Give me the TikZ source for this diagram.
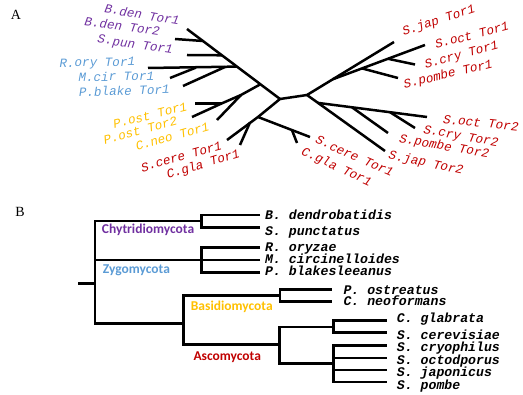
\documentclass[tikz,border=0pt]{standalone}
\usepackage{fontspec}
\setmainfont{Liberation Serif}
\newfontfamily\monof{Liberation Mono}
\newfontfamily\cladef{Carlito}
\definecolor{cpurple}{HTML}{7030A0}
\definecolor{cblue}{HTML}{5B9BD5}
\definecolor{corange}{HTML}{FFC000}
\definecolor{cred}{HTML}{C00000}
\tikzset{
  br/.style={line width=2.5pt, black, line cap=butt, line join=miter},
  tla/.style={font=\monof\itshape\fontsize{12.6}{14}\selectfont, inner sep=0pt, text height=6pt, text depth=1pt, anchor=center},
  spl/.style={font=\monof\bfseries\itshape\fontsize{13.2}{14}\selectfont, inner sep=0pt, text height=6pt, text depth=1pt, anchor=west},
  cla/.style={font=\cladef\bfseries\fontsize{13.5}{14}\selectfont, inner sep=0pt, anchor=west},
  panel/.style={font=\fontsize{14}{16}\selectfont, inner sep=0pt}
}
\begin{document}
\begin{tikzpicture}[x=1pt,y=-1pt]
\useasboundingbox (0,0) rectangle (523,395);
\node[panel] (pA) at (16,15) {A};
\node[panel] (pB) at (20,212) {B};
% ---------- panel A tree ----------
\coordinate (bdt1) at (187,29);
\coordinate (c0) at (280,99);
\coordinate (j1) at (203,41);
\coordinate (j2) at (222,55.3);
\coordinate (j3) at (237,66.6);
\coordinate (j4) at (260,84.5);
\coordinate (bdt2) at (175,39);
\coordinate (spun) at (187,55);
\coordinate (rory) at (148,68);
\coordinate (mj) at (196,67.6);
\coordinate (mcir) at (170,78);
\coordinate (pbj) at (225,67);
\coordinate (pbl) at (183,86);
\coordinate (pot2) at (192,117);
\coordinate (pnode) at (222,103.3);
\coordinate (pot1) at (195,103.3);
\coordinate (cnode) at (241,95);
\coordinate (cneo) at (217,120);
\coordinate (s1) at (258,117);
\coordinate (cgj) at (250,122.5);
\coordinate (scl) at (227,140);
\coordinate (cgl) at (240,145);
\coordinate (scr) at (310,137);
\coordinate (cgrj) at (292,130.2);
\coordinate (cgr) at (297,143);
\coordinate (c1) at (307,95);
\coordinate (sjap1) at (394,42);
\coordinate (oj) at (333,79.2);
\coordinate (soct1) at (425,45);
\coordinate (pj1) at (362,68.4);
\coordinate (spo1) at (398,78);
\coordinate (cj1) at (388,58.8);
\coordinate (scr1) at (415,64.5);
\coordinate (sjap2) at (385,151);
\coordinate (kj) at (318,102.9);
\coordinate (soct2) at (427,117);
\coordinate (pj2) at (352,107.3);
\coordinate (spo2) at (388,133);
\coordinate (cj2) at (390,112.2);
\coordinate (scr2) at (415,128);
\draw[br] (bdt1) -- (c0);
\draw[br] (bdt2) -- (j1);
\draw[br] (spun) -- (j2);
\draw[br] (rory) -- (j3);
\draw[br] (mcir) -- (mj);
\draw[br] (pbl) -- (pbj);
\draw[br] (pot2) -- (pnode) -- (cnode) -- (j4);
\draw[br] (pot1) -- (pnode);
\draw[br] (cneo) -- (cnode);
\draw[br] (c0) -- (s1) -- (scl);
\draw[br] (cgl) -- (cgj);
\draw[br] (s1) -- (scr);
\draw[br] (cgr) -- (cgrj);
\draw[br] (c0) -- (c1);
\draw[br] (c1) -- (sjap1);
\draw[br] (oj) -- (soct1);
\draw[br] (pj1) -- (spo1);
\draw[br] (cj1) -- (scr1);
\draw[br] (c1) -- (sjap2);
\draw[br] (kj) -- (soct2);
\draw[br] (pj2) -- (spo2);
\draw[br] (cj2) -- (scr2);
% labels A
\node[tla, text=cpurple, rotate=-9.5] (lbd1) at (141.7,16.5) {B.den Tor1};
\node[tla, text=cpurple, rotate=-8] (lbd2) at (122,28.3) {B.den Tor2};
\node[tla, text=cpurple, rotate=-8] (lsp) at (135,45.7) {S.pun Tor1};
\node[tla, text=cblue, rotate=1] (lro) at (97.3,64) {R.ory Tor1};
\node[tla, text=cblue, rotate=1] (lmc) at (116.3,78.3) {M.cir Tor1};
\node[tla, text=cblue, rotate=2] (lpb) at (124.3,92.7) {P.blake Tor1};
\node[tla, text=corange, rotate=14] (lpo1) at (150.5,117) {P.ost Tor1};
\node[tla, text=corange, rotate=15] (lpo2) at (140.7,132) {P.ost Tor2};
\node[tla, text=corange, rotate=16] (lcn) at (172.8,138) {C.neo Tor1};
\node[tla, text=cred, rotate=15.5] (lscl) at (181.7,158.5) {S.cere Tor1};
\node[tla, text=cred, rotate=17] (lcgl) at (203.5,165.5) {C.gla Tor1};
\node[tla, text=cred, rotate=18] (lsj1) at (439,21.5) {S.jap Tor1};
\node[tla, text=cred, rotate=15] (lso1) at (472.3,36.7) {S.oct Tor1};
\node[tla, text=cred, rotate=15] (lsc1) at (461.7,55.9) {S.cry Tor1};
\node[tla, text=cred, rotate=13] (lspo1) at (448.3,75.5) {S.pombe Tor1};
\node[tla, text=cred, rotate=-6] (lso2) at (480.7,124.7) {S.oct Tor2};
\node[tla, text=cred, rotate=-10] (lsc2) at (460.7,137.3) {S.cry Tor2};
\node[tla, text=cred, rotate=-10] (lspo2) at (444,147.6) {S.pombe Tor2};
\node[tla, text=cred, rotate=-12] (lsj2) at (425.7,164) {S.jap Tor2};
\node[tla, text=cred, rotate=-24] (lscr) at (354,157.5) {S.cere Tor1};
\node[tla, text=cred, rotate=-25] (lcgr) at (336,168) {C.gla Tor1};
% ---------- panel B tree ----------
\coordinate (r0) at (78,283.3);
\coordinate (n0) at (95,283.3);
\coordinate (nchy) at (201.7,221);
\coordinate (nzyg) at (201.7,260);
\coordinate (ndik) at (183.3,323.3);
\coordinate (tbd) at (260,215);
\coordinate (tsp) at (260,227.7);
\coordinate (tro) at (260,247.7);
\coordinate (tmc) at (260,260);
\coordinate (tpb) at (260,272.7);
\coordinate (nbas) at (280,295.5);
\coordinate (nasc) at (279.3,344.5);
\coordinate (tpo) at (331.7,289.3);
\coordinate (tcn) at (331.7,301.7);
\coordinate (nsac) at (333.3,327);
\coordinate (nsch) at (333.3,363.5);
\coordinate (tcg) at (386.7,320.7);
\coordinate (tsc) at (386.7,332.7);
\coordinate (tcr) at (386.7,345.5);
\coordinate (toc) at (386.7,358);
\coordinate (tja) at (386.7,370);
\coordinate (tpm) at (386.7,382);
\draw[br] (r0) -- (n0);
\draw[br] (nchy) -| (n0);
\draw[br] (nzyg) -| (n0);
\draw[br] (ndik) -| (n0);
\draw[br] (tbd) -| (nchy);
\draw[br] (tsp) -| (nchy);
\draw[br] (tro) -| (nzyg);
\draw[br] (tmc) -- (nzyg);
\draw[br] (tpb) -| (nzyg);
\draw[br] (nbas) -| (ndik);
\draw[br] (nasc) -| (ndik);
\draw[br] (tpo) -| (nbas);
\draw[br] (tcn) -| (nbas);
\draw[br] (nsac) -| (nasc);
\draw[br] (nsch) -| (nasc);
\draw[br] (tcg) -| (nsac);
\draw[br] (tsc) -| (nsac);
\draw[br] (tcr) -| (nsch);
\draw[br] (toc) -| (nsch);
\draw[br] (tja) -| (nsch);
\draw[br] (tpm) -| (nsch);
% clade labels
\node[cla, text=cpurple] (kchy) at (101.7,230) {Chytridiomycota};
\node[cla, text=cblue] (kzyg) at (102.7,270) {Zygomycota};
\node[cla, text=corange] (kbas) at (190.7,306.7) {Basidiomycota};
\node[cla, text=cred] (kasc) at (193.3,356.7) {Ascomycota};
% species labels
\node[spl] (sbd) at (265,216.7) {B. dendrobatidis};
\node[spl] (ssp) at (265,233.3) {S. punctatus};
\node[spl] (sro) at (265,249) {R. oryzae};
\node[spl] (smc) at (265,261) {M. circinelloides};
\node[spl] (spb) at (265,273.3) {P. blakesleeanus};
\node[spl] (spo) at (343.3,291.7) {P. ostreatus};
\node[spl] (scn) at (343.3,303.3) {C. neoformans};
\node[spl] (scg) at (396.7,320) {C. glabrata};
\node[spl] (ssc) at (396.7,336.7) {S. cerevisiae};
\node[spl] (scy) at (396.7,349) {S. cryophilus};
\node[spl] (soc) at (396.7,361.7) {S. octodporus};
\node[spl] (sja) at (396.7,374) {S. japonicus};
\node[spl] (spm) at (396.7,386.7) {S. pombe};
\end{tikzpicture}
\end{document}
